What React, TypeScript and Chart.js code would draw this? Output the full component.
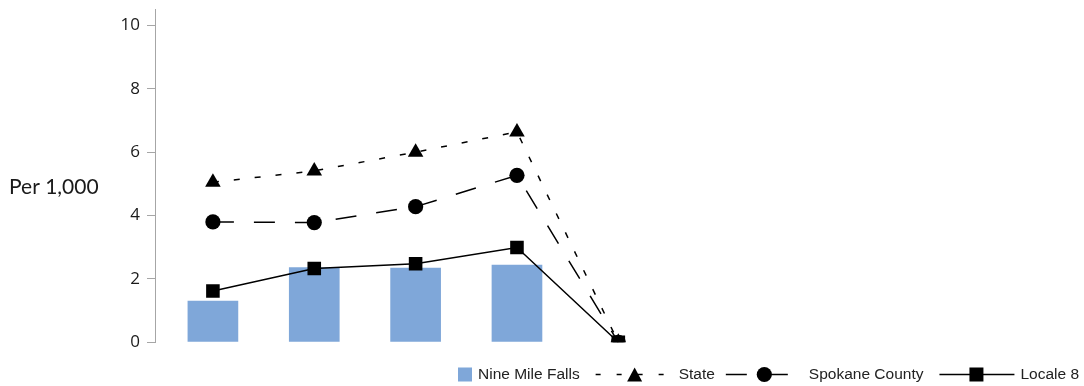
import React, { useEffect, useRef } from "react";
import { Chart, registerables } from "chart.js";

Chart.register(...registerables);

const categories = ["1", "2", "3", "4", "5"];
const nineMileFalls: (number | null)[] = [1.31, 2.37, 2.35, 2.45, null];
const stateValues = [5.05, 5.41, 6.0, 6.64, 0];
const spokaneCounty = [3.8, 3.78, 4.28, 5.27, 0];
const locale8 = [1.62, 2.33, 2.48, 2.99, 0];
const yTicks = [0, 2, 4, 6, 8, 10];
const yTitle = "Per 1,000";
const seriesNames = ["Nine Mile Falls", "State", "Spokane County", "Locale 8"];

const BAR_COLOR = "#7FA7D9";
const STATE_DASH = [6, 15];
const COUNTY_DASH = [21, 20];

const toXY = (arr: (number | null)[]) => arr.map((v, i) => ({ x: i, y: v }));

function drawTriangle(ctx: CanvasRenderingContext2D, cx: number, cy: number, w: number, h: number) {
  ctx.beginPath();
  ctx.moveTo(cx, cy - h / 2);
  ctx.lineTo(cx + w / 2, cy + h / 2);
  ctx.lineTo(cx - w / 2, cy + h / 2);
  ctx.closePath();
  ctx.fill();
}

const yTitlePlugin = {
  id: "yTitleHorizontal",
  afterDraw(chart: any) {
    const ctx = chart.ctx as CanvasRenderingContext2D;
    ctx.save();
    ctx.font = "21px Lato";
    ctx.fillStyle = "#1a1a1a";
    ctx.textAlign = "left";
    ctx.textBaseline = "middle";
    ctx.fillText(yTitle, 9, 187);
    ctx.restore();
  },
};

const legendPlugin = {
  id: "customLegend",
  afterDraw(chart: any) {
    const ctx = chart.ctx as CanvasRenderingContext2D;
    const y = 374.5;
    ctx.save();
    ctx.font = "15.5px 'Liberation Sans'";
    ctx.fillStyle = "#222";
    ctx.textBaseline = "middle";
    ctx.textAlign = "left";
    let x = 458;
    // Nine Mile Falls
    ctx.fillStyle = BAR_COLOR;
    ctx.fillRect(x, y - 7, 14, 14);
    x += 20;
    ctx.fillStyle = "#222";
    ctx.fillText(seriesNames[0], x, y);
    x += ctx.measureText(seriesNames[0]).width + 16;
    // State
    ctx.strokeStyle = "#000";
    ctx.lineWidth = 1.5;
    ctx.setLineDash([5, 16]);
    ctx.beginPath();
    ctx.moveTo(x, y);
    ctx.lineTo(x + 70, y);
    ctx.stroke();
    ctx.setLineDash([]);
    ctx.fillStyle = "#000";
    drawTriangle(ctx, x + 39, y, 15, 14);
    x += 83;
    ctx.fillStyle = "#222";
    ctx.fillText(seriesNames[1], x, y);
    x += ctx.measureText(seriesNames[1]).width + 11;
    // Spokane County
    ctx.setLineDash([21, 20]);
    ctx.beginPath();
    ctx.moveTo(x, y);
    ctx.lineTo(x + 64, y);
    ctx.stroke();
    ctx.setLineDash([]);
    ctx.fillStyle = "#000";
    ctx.beginPath();
    ctx.arc(x + 38.5, y, 7.6, 0, Math.PI * 2);
    ctx.fill();
    x += 83;
    ctx.fillStyle = "#222";
    ctx.fillText(seriesNames[2], x, y);
    x += ctx.measureText(seriesNames[2]).width + 16;
    // Locale 8
    ctx.beginPath();
    ctx.moveTo(x, y);
    ctx.lineTo(x + 75, y);
    ctx.stroke();
    ctx.fillStyle = "#000";
    ctx.fillRect(x + 30, y - 7, 14, 14);
    x += 81;
    ctx.fillStyle = "#222";
    ctx.fillText(seriesNames[3], x, y);
    ctx.restore();
  },
};

export default function App() {
  const canvasRef = useRef<HTMLCanvasElement | null>(null);

  useEffect(() => {
    document.body.style.margin = "0";
    const canvas = canvasRef.current;
    if (!canvas) return;
    const lineCommon = {
      type: "line" as const,
      borderColor: "#000",
      borderWidth: 1.5,
      fill: false,
      tension: 0,
      pointBackgroundColor: "#000",
      pointBorderColor: "#000",
      pointBorderWidth: 0,
    };
    const chart = new Chart(canvas, {
      type: "bar",
      data: {
        labels: categories,
        datasets: [
          {
            type: "bar",
            label: seriesNames[0],
            data: toXY(nineMileFalls) as any,
            backgroundColor: BAR_COLOR,
            borderWidth: 0,
            barPercentage: 0.5,
            categoryPercentage: 1,
            order: 4,
          },
          {
            ...lineCommon,
            label: seriesNames[1],
            data: toXY(stateValues) as any,
            borderDash: STATE_DASH,
            pointStyle: "triangle",
            pointRadius: 9,
            order: 3,
          },
          {
            ...lineCommon,
            label: seriesNames[2],
            data: toXY(spokaneCounty) as any,
            borderDash: COUNTY_DASH,
            pointStyle: "circle",
            pointRadius: 7.6,
            order: 2,
          },
          {
            ...lineCommon,
            label: seriesNames[3],
            data: toXY(locale8) as any,
            pointStyle: "rect",
            pointRadius: 9.6,
            order: 1,
          },
        ] as any,
      },
      options: {
        animation: false,
        responsive: false,
        maintainAspectRatio: false,
        layout: { padding: { left: 100, top: 6, right: 8, bottom: 43.7 } },
        plugins: {
          legend: { display: false },
          tooltip: { enabled: false },
          title: { display: false },
        },
        scales: {
          x: {
            type: "linear",
            display: false,
            offset: false,
            min: -0.5714,
            max: 8.5,
            ticks: { stepSize: 1, includeBounds: false },
          },
          y: {
            type: "linear",
            min: 0,
            max: 10.5,
            afterFit(scale: any) {
              scale.width = 55;
              scale.paddingTop = 0;
              scale.paddingBottom = 0;
            },
            afterBuildTicks(scale: any) {
              scale.ticks = yTicks.map((v) => ({ value: v }));
            },
            ticks: {
              includeBounds: false,
              padding: 7,
              color: "#1a1a1a",
              font: { family: "'Open Sans'", size: 17 },
            },
            grid: {
              display: true,
              drawOnChartArea: false,
              drawTicks: true,
              tickLength: 8,
              color: "#A6A6A6",
              lineWidth: 1,
            },
            border: { display: true, color: "#A6A6A6", width: 1 },
          },
        },
      } as any,
      plugins: [yTitlePlugin, legendPlugin],
    });
    return () => chart.destroy();
  }, []);

  return (
    <div style={{ width: 1084, height: 386 }}>
      <canvas ref={canvasRef} width={1084} height={386} style={{ display: "block" }} />
    </div>
  );
}
